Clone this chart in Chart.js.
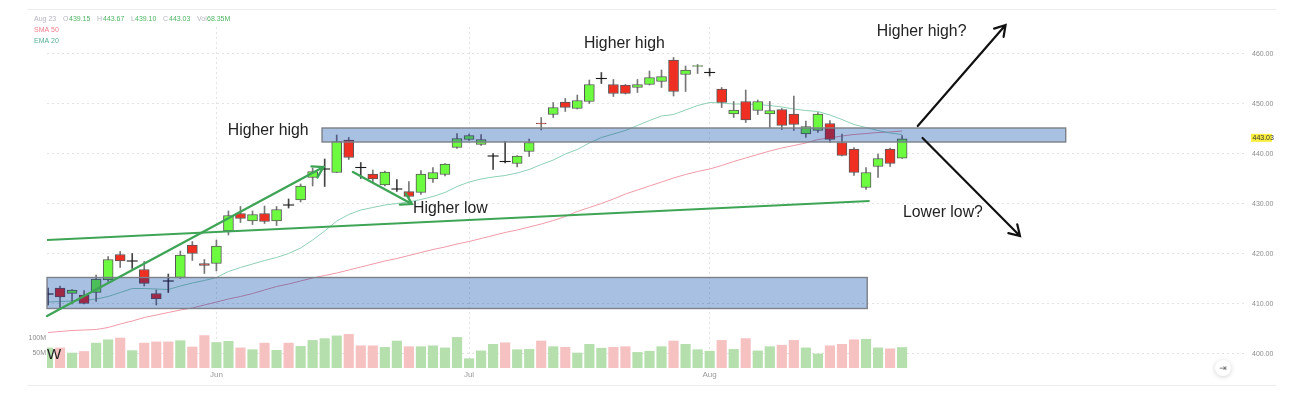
<!DOCTYPE html>
<html><head><meta charset="utf-8">
<style>html,body{margin:0;padding:0;background:#fff}canvas{display:block;filter:blur(0.35px)}</style>
<script src="https://cdn.jsdelivr.net/npm/chart.js@4"></script>
</head><body><canvas id="c" width="1293" height="396"></canvas>
<script>
const opens=[412,413.2,412.1,411.8,412.3,414.8,419.9,418.6,416.9,412.1,414.6,415.3,421.8,418.1,418.1,424.6,428.1,426.6,428.1,426.6,429.8,430.8,435.3,437,436.3,442.8,437.3,436,433.8,433,432.5,432.3,435,435.9,441.3,442.9,441.9,439.6,438.5,438.1,440.5,446.2,447.9,450.4,449.1,450.5,455.1,453.9,453.8,453.3,453.9,454.5,458.8,455.9,457.5,456.3,453,448,450.5,448.7,448,448.9,448,444,444.7,446.1,442.3,441,433.3,437.5,441,439.15];
const closes=[412,411.4,412.8,410.1,415,418.9,418.6,418.6,414.1,411,414.6,419.8,420.1,417.7,421.6,427.7,427.1,427.9,426.5,428.9,429.8,433.6,436.5,437,442.5,439.3,437.3,435,436.4,433,431.5,436,436.3,438,443.1,443.7,442.9,439.6,438.5,439.6,442.3,446,449.3,449.3,450.7,453.9,455.1,452.1,452.1,453.9,455.3,455.5,452.5,456.8,457.7,456.3,450.3,448.8,446.8,450.5,448.7,445.7,445.9,445.5,448,442.9,439.7,436.3,436.3,439.1,438.1,443.03];
const highs=[413.2,413.6,412.9,412.7,415.8,419.5,420.5,420.1,418.5,412.8,416,420.6,422.5,418.9,422.8,428.6,429.5,428.6,429.6,429.5,431,434,437.2,439,443.8,443.3,438.3,436.8,436.6,434.9,434.5,436.7,437.3,438.1,444.1,444,443.9,440.1,442.5,439.7,443,447.3,450.3,451.1,451.8,454.8,456.3,454.9,453.9,454.9,456.6,456.8,459.3,457.6,457.9,457.1,453.3,450.5,452.8,450.8,450.5,449.1,451.6,446.6,448.3,446.7,444,441.3,437.3,440,441.2,443.67];
const lows=[409.8,409.2,410,410,410.5,414.5,417.3,417.1,413.6,409.8,412.3,415.1,418.7,416.1,416.6,423.8,426.3,425.9,426.1,425.7,429.2,430.4,433.6,433.5,436.3,438.9,435.1,434.3,433.6,432.5,431.1,431.9,434.3,435.6,441.1,442.7,441.7,436.9,438.2,437.4,439.5,444.8,447.3,448.5,449,450.1,454.1,451.5,452,452.3,453.8,453.3,451.6,452.5,456.1,455.6,449.3,447.3,446.3,447.9,445.3,444.9,444.7,443.3,444.3,442.3,439.6,435.7,432.9,435.3,437.5,439.1];
const volumes=[67,67,50,55,83,94,100,58,83,87,87,91,70,108,85,89,67,61,83,59,83,72,92,98,107,112,74,74,69,90,71,71,74,67,102,31,57,79,84,61,62,90,71,69,50,79,66,69,71,52,56,71,90,79,61,56,92,62,98,57,71,76,92,67,47,74,79,94,96,67,64,68.35];
const volumeUp=[1,0,1,0,1,1,0,1,0,0,0,1,0,0,1,1,0,1,0,1,0,1,1,1,1,0,0,0,1,1,0,1,1,1,1,1,1,1,0,1,1,0,1,0,1,1,1,0,0,1,1,1,0,1,1,1,0,1,0,1,1,0,0,1,1,0,0,0,1,1,0,1];
const ema20=[410.4,410.5,410.6,410.7,411,411.5,412.3,413.1,413.1,413,412.9,413.6,414.2,414.7,415.3,416.5,417.3,418,418.7,419.3,420.1,421.2,422.8,424.6,426.6,427.9,428.8,429.3,429.8,430.1,430.4,430.9,431.5,432.3,433.5,434.4,435,435.4,435.7,436.2,436.9,437.9,438.8,440,440.9,442.2,443.3,444,444.7,445.7,446.7,447.6,447.9,448.8,449.7,450.3,450.2,450,450,449.9,449.7,449.4,449,448.7,448.5,447.8,446.9,445.9,445.3,444.7,444.2,443.9];
const sma50=[404.3,404.5,404.7,404.8,404.9,405.3,406,406.6,407.3,407.8,408.3,408.8,409.2,409.8,410.4,411,411.5,412.1,412.8,413.5,414,414.6,415.2,415.7,416.2,416.8,417.4,418,418.6,419.1,419.7,420.3,420.9,421.4,422,422.5,423.1,423.7,424.3,424.8,425.4,426,426.7,427.5,428.5,429.3,430.1,431,432,432.8,433.6,434.4,435.2,435.9,436.5,437,437.7,438.5,439.2,439.9,440.6,441.2,441.7,442.2,442.9,443.2,443.6,443.9,444.1,444.3,444.4,444.6];
const priceTicks=[400,410,420,430,440,450,460];
const volumeTicks=[50,100];
const monthTicks=[14,35,55];
const monthLabels=['Jun','Jul','Aug'];
const lastClose=443.03;
const zones=[[-0.08,68.1,409.1,415.3],[22.78,84.6,442.4,445.2]];
const greenLines=[[-0.08,422.8,68.3,430.6]];
const greenArrows=[[-0.08,407.6,22.9,437.4],[25.35,436.4,30.25,430]];
const blackArrows=[[72.3,445.6,79.6,465.8],[72.7,443.2,80.8,423.6]];
const notes=[['Higher high',14.95,444.6],['Higher low',30.34,429],['Higher high',44.55,462],['Higher high?',68.9,464.4],['Lower low?',71.07,428.2]];
const headerRow=[['Aug 23','#b4b6c0'],['O','#b4b6c0'],['439.15','#4fb565'],['H','#b4b6c0'],['443.67','#4fb565'],['L','#b4b6c0'],['439.10','#4fb565'],['C','#b4b6c0'],['443.03','#4fb565'],['Vol','#b4b6c0'],['68.35M','#4fb565']];
const headerX=[34,63,69,97,103,131,135,163,169,197,207];

const idx=opens.map((_,i)=>i);
const isDoji=i=>opens[i]===closes[i];
const GREEN='#6cfb3e',RED='#ef2f22',EDGE='#585858';

const overlay={id:'overlay',
 afterDatasetsDraw(ch){
  const c=ch.ctx,X=ch.scales.x,Y=ch.scales.y;
  const px=v=>X.getPixelForValue(v),py=v=>Y.getPixelForValue(v);
  c.save();
  zones.forEach(z=>{
   const x0=px(z[0]),x1=px(z[1]),y0=py(z[3]),y1=py(z[2]);
   c.globalCompositeOperation='multiply';
   c.fillStyle='rgb(201,236,225)';c.fillRect(x0,y0,x1-x0,y1-y0);
   c.globalCompositeOperation='source-over';
   c.fillStyle='rgba(40,25,230,0.2)';c.fillRect(x0,y0,x1-x0,y1-y0);
   c.strokeStyle='#7d8088';c.lineWidth=1.4;c.strokeRect(x0,y0,x1-x0,y1-y0);
  });
  const arrow=(a,col,w,head)=>{
   const x0=px(a[0]),y0=py(a[1]),x1=px(a[2]),y1=py(a[3]);
   const t=Math.atan2(y1-y0,x1-x0);
   c.strokeStyle=col;c.lineWidth=w;c.lineCap='round';c.lineJoin='miter';
   c.beginPath();c.moveTo(x0,y0);c.lineTo(x1,y1);
   c.moveTo(x1-head*Math.cos(t-0.55),y1-head*Math.sin(t-0.55));
   c.lineTo(x1,y1);
   c.lineTo(x1-head*Math.cos(t+0.55),y1-head*Math.sin(t+0.55));
   c.stroke();
  };
  greenLines.forEach(l=>{c.strokeStyle='#3fa556';c.lineWidth=2.2;c.beginPath();c.moveTo(px(l[0]),py(l[1]));c.lineTo(px(l[2]),py(l[3]));c.stroke();});
  greenArrows.forEach(a=>arrow(a,'#3fa556',2.4,12));
  blackArrows.forEach(a=>arrow(a,'#111',2.2,12));
  c.fillStyle='#222';c.font='15.8px "Liberation Sans"';c.textBaseline='middle';c.textAlign='left';
  notes.forEach(n=>c.fillText(n[0],px(n[1]),py(n[2])));
  c.fillStyle='#222';c.font='15px "Liberation Sans"';c.fillText('W',47,355);
  c.font='7px "Liberation Sans"';
  headerRow.forEach((h,i)=>{c.fillStyle=h[1];c.fillText(h[0],headerX[i],19.5);});
  c.fillStyle='#f0808e';c.fillText('SMA 50',34,30);
  c.fillStyle='#55b08f';c.fillText('EMA 20',34,41);
  const ly=py(lastClose)-1;
  c.fillStyle='#f7ee3f';c.fillRect(1251,ly-4,21,8);
  c.fillStyle='#333';c.font='7px "Liberation Sans"';c.fillText(lastClose.toFixed(2),1252.5,ly+0.5);
  c.strokeStyle='#ececec';c.lineWidth=1;
  c.beginPath();c.moveTo(28,9.5);c.lineTo(1276,9.5);c.moveTo(28,385.5);c.lineTo(1276,385.5);c.stroke();
  c.shadowColor='rgba(0,0,0,0.18)';c.shadowBlur=5;c.shadowOffsetY=1;
  c.fillStyle='#fff';c.beginPath();c.arc(1223,368,8,0,Math.PI*2);c.fill();
  c.shadowColor='transparent';c.shadowBlur=0;c.shadowOffsetY=0;
  c.fillStyle='#666';c.font='9px "DejaVu Sans"';c.textAlign='center';c.fillText('⇥',1223,368.5);
  c.restore();
 }};

new Chart(document.getElementById('c'),{
 type:'bar',
 data:{datasets:[
  {type:'line',label:'Doji',order:1,data:idx.filter(isDoji).map(i=>({x:i,y:closes[i]})),showLine:false,pointStyle:'line',pointRadius:5.5,pointBorderWidth:1.1,pointBorderColor:'#1a1a1a',yAxisID:'y'},
  {label:'Body',order:2,grouped:false,barThickness:10,data:idx.filter(i=>!isDoji(i)).map(i=>({x:i,y:[opens[i],closes[i]]})),
   backgroundColor:idx.filter(i=>!isDoji(i)).map(i=>closes[i]>opens[i]?GREEN:RED),borderColor:EDGE,borderWidth:1,borderSkipped:false,yAxisID:'y'},
  {label:'Wick',order:3,grouped:false,barThickness:1,data:idx.map(i=>({x:i,y:[lows[i],highs[i]]})),
   backgroundColor:idx.map(i=>isDoji(i)?'#444':'#777'),borderWidth:0,yAxisID:'y'},
  {type:'line',label:'EMA 20',order:4,data:idx.map(i=>({x:i,y:ema20[i]})),borderColor:'#8ed0b4',borderWidth:1,pointRadius:0,tension:0,yAxisID:'y'},
  {type:'line',label:'SMA 50',order:4,data:idx.map(i=>({x:i,y:sma50[i]})),borderColor:'#f19aa8',borderWidth:1,pointRadius:0,tension:0,yAxisID:'y'},
  {label:'Volume',order:5,grouped:false,barThickness:9.5,data:idx.map(i=>({x:i,y:volumes[i]})),
   backgroundColor:idx.map(i=>volumeUp[i]?'#b5dfad':'#f6c1c1'),borderWidth:0,yAxisID:'vol'}
 ]},
 options:{
  responsive:false,animation:false,
  layout:{padding:{top:27,bottom:11,left:0,right:0}},
  plugins:{legend:{display:false},tooltip:{enabled:false},title:{display:false}},
  scales:{
   x:{type:'linear',position:'bottom',offset:false,min:-0.083,max:99.67,
    afterBuildTicks(s){s.ticks=monthTicks.map(v=>({value:v}));},
    afterFit(s){s.height=17;},
    ticks:{autoSkip:false,maxRotation:0,padding:2,font:{size:8,family:'Liberation Sans'},color:'#9a9a9a',callback:v=>monthLabels[monthTicks.indexOf(v)]||''},
    grid:{offset:false,color:'#e3e3e3',drawTicks:false},border:{display:false,dash:[2,3]}},
   y:{type:'linear',position:'right',min:397.2,max:465.4,
    afterBuildTicks(s){s.ticks=priceTicks.map(v=>({value:v}));},
    afterFit(s){s.width=46;},
    ticks:{padding:5,font:{size:7,family:'Liberation Sans'},color:'#8c8c8c',callback:v=>v.toFixed(2)},
    grid:{color:'#e3e3e3',drawTicks:false},border:{display:false,dash:[2,3]}},
   vol:{type:'linear',position:'left',min:0,max:1136.7,
    afterBuildTicks(s){s.ticks=volumeTicks.map(v=>({value:v}));},
    afterFit(s){s.width=47;},
    ticks:{padding:1,font:{size:7,family:'Liberation Sans'},color:'#8c8c8c',callback:v=>v+'M'},
    grid:{drawOnChartArea:false,drawTicks:false},border:{display:false}}
  }
 },
 plugins:[overlay]
});
</script></body></html>
